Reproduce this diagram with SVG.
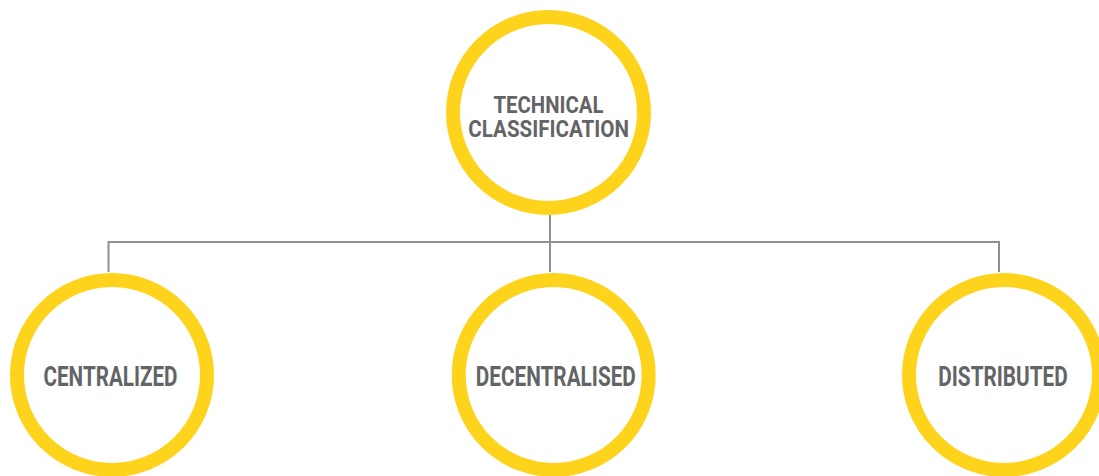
<svg xmlns="http://www.w3.org/2000/svg" width="1099" height="476" viewBox="0 0 1099 476">
<style>
.ring{fill:#fff;stroke:#FDD31C;stroke-width:14}
.lbl{font-family:Roboto,"Liberation Sans",sans-serif;font-weight:bold;fill:#636466;text-anchor:middle}
.conn{fill:none;stroke:#8f9094;stroke-width:2}
</style>
<rect width="1099" height="476" fill="#fff"/>
<g id="connectors">
<path class="conn" d="M550 215V242M108.5 272V242H999V272M550 242V272"/>
</g>
<g id="technical-classification">
<circle class="ring" cx="548.5" cy="112.5" r="95.5"/>
<text class="lbl" x="548.5" y="112.7" font-size="24.5" textLength="110" lengthAdjust="spacingAndGlyphs">TECHNICAL</text>
<text class="lbl" x="548.7" y="137.3" font-size="24.5" textLength="160.7" lengthAdjust="spacingAndGlyphs">CLASSIFICATION</text>
</g>
<g id="centralized">
<circle class="ring" cx="112" cy="375" r="95"/>
<text class="lbl" x="110.5" y="386" font-size="27" textLength="134" lengthAdjust="spacingAndGlyphs">CENTRALIZED</text>
</g>
<g id="decentralised">
<circle class="ring" cx="553.7" cy="375" r="95"/>
<text class="lbl" x="555.8" y="386" font-size="27" textLength="160" lengthAdjust="spacingAndGlyphs">DECENTRALISED</text>
</g>
<g id="distributed">
<circle class="ring" cx="1004" cy="375" r="95"/>
<text class="lbl" x="1003" y="386" font-size="27" textLength="129.3" lengthAdjust="spacingAndGlyphs">DISTRIBUTED</text>
</g>
</svg>
